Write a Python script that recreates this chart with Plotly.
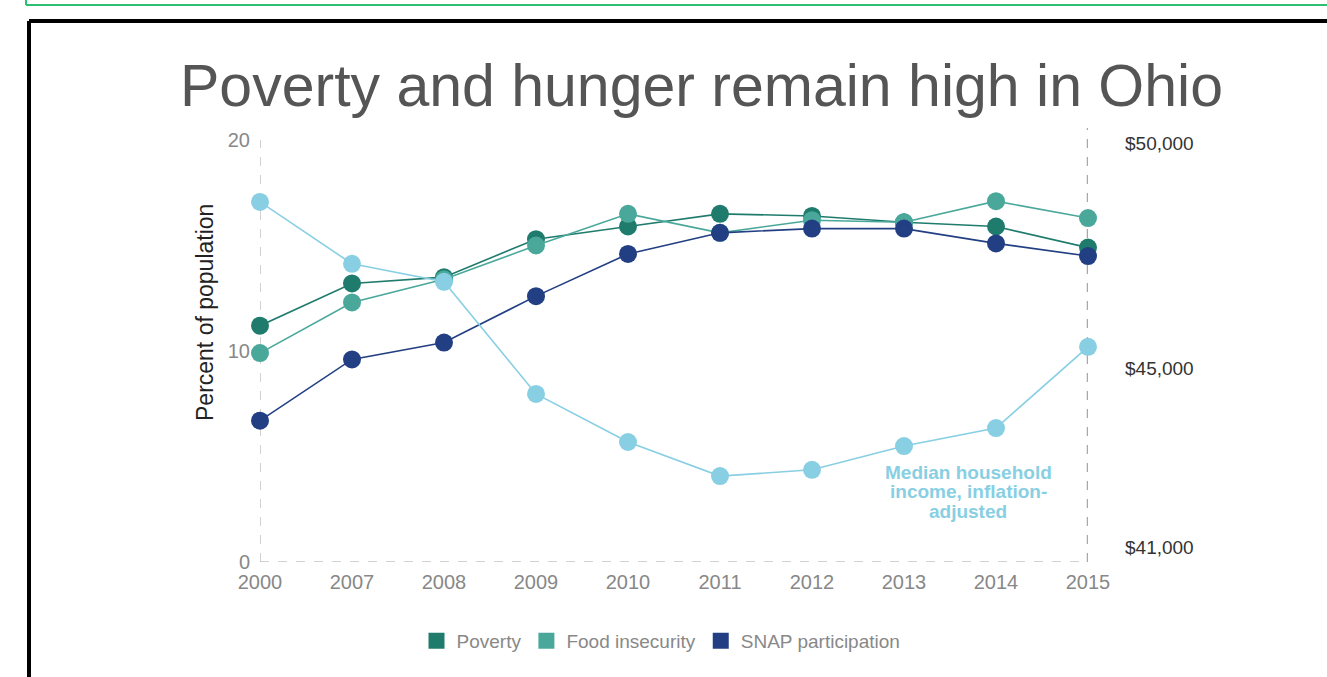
import plotly.graph_objects as go

years = ["2000", "2007", "2008", "2009", "2010", "2011", "2012", "2013", "2014", "2015"]
poverty = [11.2, 13.2, 13.5, 15.3, 15.9, 16.5, 16.4, 16.1, 15.9, 14.9]
food_insecurity = [9.9, 12.3, 13.4, 15.0, 16.5, 15.6, 16.2, 16.1, 17.1, 16.3]
snap = [6.7, 9.6, 10.4, 12.6, 14.6, 15.6, 15.8, 15.8, 15.1, 14.5]
income = [48700, 47320, 46920, 44420, 43350, 42590, 42730, 43260, 43660, 45470]

income_ticks = [41000, 45000, 50000]
income_ticktext = ["$41,000", "$45,000", "$50,000"]
note_lines = ["Median household", "income, inflation-", "adjusted"]

C_POV = "#1f7c6d"
C_FOOD = "#4aa89b"
C_SNAP = "#233f83"
C_INC = "#88cfe3"
FONT = "Liberation Sans, Arial, Helvetica, sans-serif"

W, H = 1327, 677
# plot area in page pixels
L, R, T, B = 260, 1088, 140, 562


def px(x):
    return (x - L) / (R - L)


def py(y):
    return (B - y) / (B - T)


fig = go.Figure()
for name, vals, col in [("Poverty", poverty, C_POV),
                        ("Food insecurity", food_insecurity, C_FOOD),
                        ("SNAP participation", snap, C_SNAP)]:
    fig.add_trace(go.Scatter(x=years, y=vals, mode="lines+markers", name=name,
                             line=dict(color=col, width=1.6),
                             marker=dict(color=col, size=18),
                             cliponaxis=False, showlegend=False))

fig.add_trace(go.Scatter(x=years, y=income, mode="lines+markers", name="Median household income",
                         yaxis="y2", line=dict(color=C_INC, width=1.6),
                         marker=dict(color=C_INC, size=18),
                         cliponaxis=False, showlegend=False))

# legend entries (square swatches)
for name, col in [("Poverty", C_POV), ("Food insecurity", C_FOOD), ("SNAP participation", C_SNAP)]:
    fig.add_trace(go.Scatter(x=[None], y=[None], mode="markers", name=name,
                             marker=dict(color=col, size=19, symbol="square")))

shapes = [
    dict(type="line", xref="x", yref="y", x0=0, x1=9, y0=0, y1=0,
         line=dict(color="#c4c4c4", width=1.5, dash="dash"), layer="below"),
    dict(type="line", xref="x", yref="y", x0=0, x1=0, y0=0, y1=20,
         line=dict(color="#c4c4c4", width=1.5, dash="dash"), layer="below"),
    dict(type="line", xref="x", yref="paper", x0=9, x1=9, y0=0, y1=py(128),
         line=dict(color="#a8a8a8", width=2.5, dash="dash"), layer="below"),
    dict(type="line", xref="paper", yref="paper", x0=px(26), x1=px(1340), y0=py(5), y1=py(5),
         line=dict(color="#2fbf73", width=2)),
    dict(type="line", xref="paper", yref="paper", x0=px(26), x1=px(26), y0=py(-5), y1=py(5),
         line=dict(color="#2fbf73", width=2)),
    dict(type="line", xref="paper", yref="paper", x0=px(29), x1=px(1340), y0=py(21), y1=py(21),
         line=dict(color="#000000", width=4)),
    dict(type="line", xref="paper", yref="paper", x0=px(29), x1=px(29), y0=py(21), y1=py(690),
         line=dict(color="#000000", width=4)),
]

annotations = [
    dict(text="Poverty and hunger remain high in Ohio", xref="paper", yref="paper",
         x=px(701), y=py(86), xanchor="center", yanchor="middle", showarrow=False,
         font=dict(family=FONT, size=59, color="#555555")),
    dict(text="Percent of population", xref="paper", yref="paper", textangle=-90,
         x=px(205), y=py(313), xanchor="center", yanchor="middle", showarrow=False,
         font=dict(family=FONT, size=23, color="#222222")),
]
for line, yy in zip(note_lines, [472, 491.5, 511]):
    annotations.append(dict(text="<b>" + line + "</b>", xref="x", yref="paper",
                            x=7.7, y=py(yy), xanchor="center", yanchor="middle", showarrow=False,
                            font=dict(family=FONT, size=19, color=C_INC)))

fig.update_layout(
    width=W, height=H,
    margin=dict(l=L, r=W - R, t=T, b=H - B, pad=0),
    paper_bgcolor="white", plot_bgcolor="white",
    font=dict(family=FONT),
    xaxis=dict(type="category", range=[0, 9], showgrid=False, zeroline=False, showline=False,
               ticks="", ticklabelstandoff=6, tickfont=dict(size=20, color="#888888")),
    yaxis=dict(range=[0, 20], tickvals=[0, 10, 20], showgrid=False, zeroline=False, showline=False,
               ticks="", tickfont=dict(size=20, color="#888888"), ticklabelstandoff=9),
    yaxis2=dict(overlaying="y", side="right", range=[40676, 50079], tickvals=income_ticks,
                ticktext=income_ticktext, showgrid=False, zeroline=False, showline=False,
                ticks="", ticklabelstandoff=36, tickfont=dict(size=19, color="#333333")),
    legend=dict(orientation="h", x=px(661), y=py(641), xanchor="center", yanchor="middle",
                font=dict(size=19, color="#888888"), itemsizing="trace",
                traceorder="normal", itemwidth=30),
    shapes=shapes,
    annotations=annotations,
    showlegend=True,
)

fig.write_html("out.html", config={"displayModeBar": False},
               post_script="document.body.style.margin='0';")
